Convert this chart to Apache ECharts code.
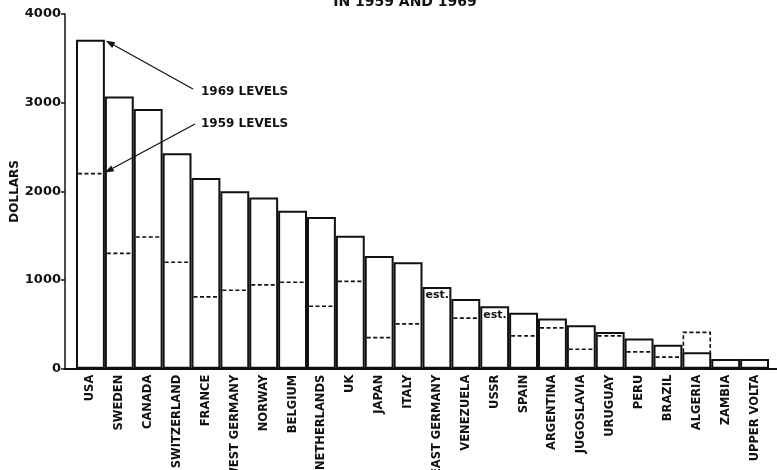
<!DOCTYPE html>
<html>
<head>
<meta charset="utf-8">
<style>
html,body{margin:0;padding:0;background:#fff;}
#chart{width:777px;height:470px;}
</style>
<script src="https://cdn.jsdelivr.net/npm/echarts@6/dist/echarts.min.js"></script>
</head>
<body>
<div id="chart"></div>
<script>
const countries = ['USA','SWEDEN','CANADA','SWITZERLAND','FRANCE','WEST GERMANY','NORWAY','BELGIUM','NETHERLANDS','UK','JAPAN','ITALY','EAST GERMANY','VENEZUELA','USSR','SPAIN','ARGENTINA','JUGOSLAVIA','URUGUAY','PERU','BRAZIL','ALGERIA','ZAMBIA','UPPER VOLTA'];
const levels1969 = [3710,3070,2930,2430,2150,2000,1930,1780,1710,1500,1270,1200,920,785,705,630,565,490,415,340,270,185,110,110];
const levels1959 = [2200,1300,1485,1200,810,885,945,975,705,985,350,505,null,570,null,370,460,220,370,190,130,410,null,null];
const notes = ['','','','','','','','','','','','','est.','','est.','','','','','','','','',''];
const yTicks = [0,1000,2000,3000,4000];

const FONT = 'DejaVu Sans';
const INK = '#111';

const chart = echarts.init(document.getElementById('chart'), null, {renderer:'canvas'});

const dashData = countries.map((c,i)=>[i, levels1959[i] == null ? NaN : levels1959[i], levels1969[i]]);

const option = {
  animation:false,
  backgroundColor:'#fff',
  title:{
    text:'IN 1959 AND 1969',
    left:400, top:-10, textAlign:'center',
    textStyle:{fontFamily:FONT, fontWeight:'bold', fontSize:14, color:INK}
  },
  grid:[
    {left:76, right:8, top:14, bottom:101.3, containLabel:false, outerBoundsMode:'none'},
    {left:65, right:0, top:14, bottom:101.3, containLabel:false, outerBoundsMode:'none'}
  ],
  xAxis:[
    {type:'category', gridIndex:0, data:countries,
     axisLine:{show:false}, axisTick:{show:false},
     axisLabel:{interval:0, rotate:90, margin:6, fontFamily:FONT, fontWeight:'bold', fontSize:11.5, color:INK, hideOverlap:false}},
    {type:'value', gridIndex:1, min:0, max:1,
     axisLine:{show:true, onZero:false, lineStyle:{color:INK, width:2}},
     axisTick:{show:false}, axisLabel:{show:false}, splitLine:{show:false}}
  ],
  yAxis:[
    {type:'value', gridIndex:0, min:0, max:4000, interval:1000, show:false},
    {type:'value', gridIndex:1, min:0, max:4000, interval:1000,
     name:'DOLLARS', nameLocation:'middle', nameGap:44, nameRotate:90, nameMoveOverlap:false,
     nameTextStyle:{fontFamily:FONT, fontWeight:'bold', fontSize:12, color:INK},
     axisLine:{show:true, lineStyle:{color:INK, width:1.5}},
     axisTick:{show:true, length:4, lineStyle:{color:INK, width:1.5}},
     axisLabel:{margin:4, fontFamily:FONT, fontWeight:'bold', fontSize:13, color:INK,
       formatter:(v)=> yTicks.indexOf(v) >= 0 ? String(v) : ''},
     splitLine:{show:false}}
  ],
  series:[
    {type:'bar', xAxisIndex:0, yAxisIndex:0, data:levels1969,
     barCategoryGap:0, barGap:0,
     itemStyle:{color:'#fff', borderColor:INK, borderWidth:2},
     silent:true, z:2},
    {type:'custom', xAxisIndex:0, yAxisIndex:0, data:dashData, z:3, silent:true,
     renderItem:function(params, api){
       const i = api.value(0);
       const v59 = api.value(1);
       const v69 = api.value(2);
       const w = api.size([1,0])[0];
       const top = api.coord([i, v69]);
       const l = top[0]-w/2, r = top[0]+w/2;
       const children = [];
       const dashStyle = {stroke:INK, lineWidth:1.6, lineDash:[4,2.5], fill:null};
       if (!isNaN(v59)) {
         const p = api.coord([i, v59]);
         if (v59 <= v69) {
           children.push({type:'line', shape:{x1:l+2, y1:p[1], x2:r-2, y2:p[1]}, style:dashStyle});
         } else {
           children.push({type:'polyline', shape:{points:[[l+1,top[1]],[l+1,p[1]],[r-1,p[1]],[r-1,top[1]]]}, style:dashStyle});
         }
       }
       const note = notes[params.dataIndex];
       if (note) {
         children.push({type:'text', style:{text:note, x:l+3, y:top[1]+3, fill:INK,
           font:'bold 11px "DejaVu Sans"', textAlign:'left', textVerticalAlign:'top'}});
       }
       return {type:'group', children:children};
     }}
  ]
};
chart.setOption(option);

// annotation arrows pointing to USA's 1969 and 1959 levels (endpoints from data)
const band = chart.convertToPixel({xAxisIndex:0}, 1) - chart.convertToPixel({xAxisIndex:0}, 0);
const p69 = chart.convertToPixel({gridIndex:0}, [0, levels1969[0]]);
const p59 = chart.convertToPixel({gridIndex:0}, [0, levels1959[0]]);
const e69 = [p69[0]+band/2+1, p69[1]+1];
const e59 = [p59[0]+band/2, p59[1]-1];
function arrow(sx, sy, ex, ey){
  const ang = Math.atan2(ey-sy, ex-sx);
  const L = 9, W = 3.2;
  const bx = ex - L*Math.cos(ang), by = ey - L*Math.sin(ang);
  const nx = -Math.sin(ang), ny = Math.cos(ang);
  return [
    {type:'line', shape:{x1:sx, y1:sy, x2:bx, y2:by}, style:{stroke:INK, lineWidth:1.2}, z:10},
    {type:'polygon', shape:{points:[[ex,ey],[bx+nx*W,by+ny*W],[bx-nx*W,by-ny*W]]}, style:{fill:INK}, z:10}
  ];
}
chart.setOption({graphic:[
  ...arrow(193, 89, e69[0], e69[1]),
  ...arrow(195, 124, e59[0], e59[1]),
  {type:'text', x:201, y:92, style:{text:'1969 LEVELS', font:'bold 12px "DejaVu Sans"', fill:INK, textVerticalAlign:'middle'}, z:10},
  {type:'text', x:201, y:124, style:{text:'1959 LEVELS', font:'bold 12px "DejaVu Sans"', fill:INK, textVerticalAlign:'middle'}, z:10}
]});
</script>
</body>
</html>
